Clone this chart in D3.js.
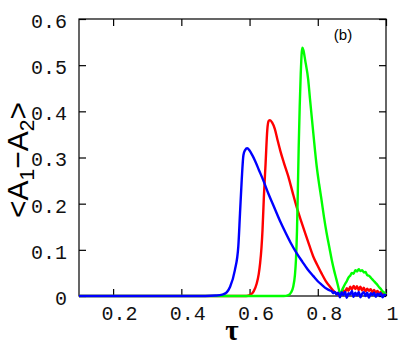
<!DOCTYPE html>
<html lang="en">
<head>
<meta charset="UTF-8">
<title>A1 - A2 vs tau</title>
<script src="https://d3js.org/d3.v7.min.js"></script>
<style>
  body { margin: 0; background: #fff; }
  .tick text { font-family: "Liberation Mono", monospace; font-size: 20px; fill: #111; }
</style>
</head>
<body>
<svg id="chart" width="415" height="348"></svg>
<script>
// tick values
const xTicks = [0.2, 0.4, 0.6, 0.8, 1];
const yTicks = [0, 0.1, 0.2, 0.3, 0.4, 0.5, 0.6];

// [tau, <A1-A2>]
const bluePts = [
  [0.10, 0], [0.47, 0], [0.50, 0.001], [0.52, 0.003], [0.533, 0.008], [0.543, 0.02],
  [0.557, 0.056], [0.567, 0.107], [0.572, 0.179], [0.577, 0.251], [0.582, 0.305],
  [0.587, 0.316], [0.593, 0.32], [0.6, 0.315], [0.608, 0.305], [0.616, 0.293],
  [0.628, 0.272], [0.64, 0.251], [0.655, 0.222], [0.67, 0.196], [0.689, 0.163],
  [0.705, 0.138], [0.72, 0.116], [0.738, 0.093], [0.755, 0.074], [0.77, 0.058],
  [0.787, 0.043], [0.80, 0.032], [0.812, 0.024], [0.825, 0.016],
  [0.835, 0.012], [0.84, 0.011], [0.845, 0.006], [0.85, 0.009], [0.855, 0.003],
  [0.86, 0.007], [0.865, -0.003], [0.87, 0.008], [0.875, 0.002], [0.88, 0.009],
  [0.885, -0.004], [0.89, 0.006], [0.895, 0.003], [0.9, 0.011], [0.905, -0.002],
  [0.91, 0.007], [0.915, 0.001], [0.92, 0.009], [0.925, -0.003], [0.93, 0.005],
  [0.935, 0.008], [0.94, 0.0], [0.945, 0.007], [0.95, -0.004], [0.955, 0.006],
  [0.96, 0.002], [0.965, 0.007], [0.97, -0.002], [0.975, 0.005], [0.98, 0.001],
  [0.985, 0.006], [0.99, -0.003], [0.995, 0.003], [1.0, 0.002]
];
const redPts = [
  [0.10, 0], [0.59, 0], [0.601, 0.002], [0.612, 0.01], [0.621, 0.027], [0.627, 0.048],
  [0.631, 0.071], [0.635, 0.105], [0.638, 0.143], [0.642, 0.215], [0.647, 0.287],
  [0.652, 0.36], [0.656, 0.379], [0.66, 0.381], [0.666, 0.376], [0.674, 0.362],
  [0.682, 0.338], [0.69, 0.315], [0.70, 0.29], [0.714, 0.258], [0.726, 0.225],
  [0.738, 0.193], [0.75, 0.165], [0.763, 0.136], [0.775, 0.11], [0.787, 0.085],
  [0.80, 0.065], [0.811, 0.049], [0.823, 0.033], [0.836, 0.02], [0.845, 0.012],
  [0.852, 0.007], [0.858, 0.004], [0.863, 0.001], [0.868, 0.008], [0.872, 0.004],
  [0.876, 0.012], [0.88, 0.008], [0.885, 0.017], [0.89, 0.011], [0.895, 0.02],
  [0.9, 0.014], [0.905, 0.022], [0.91, 0.015], [0.915, 0.021], [0.92, 0.013],
  [0.925, 0.02], [0.93, 0.012], [0.935, 0.018], [0.94, 0.01], [0.945, 0.016],
  [0.95, 0.011], [0.955, 0.015], [0.96, 0.008], [0.965, 0.013], [0.97, 0.007],
  [0.975, 0.011], [0.98, 0.005], [0.985, 0.009], [0.99, 0.004], [0.995, 0.006],
  [1.0, 0.003]
];
const greenPts = [
  [0.10, 0], [0.70, 0], [0.714, 0.002], [0.722, 0.008], [0.728, 0.02], [0.733, 0.045],
  [0.736, 0.078], [0.739, 0.14], [0.741, 0.208], [0.744, 0.32], [0.747, 0.41],
  [0.75, 0.48], [0.753, 0.528], [0.755, 0.538], [0.758, 0.532], [0.763, 0.511],
  [0.772, 0.468], [0.777, 0.428], [0.787, 0.352], [0.797, 0.28], [0.804, 0.242],
  [0.811, 0.208], [0.818, 0.172], [0.826, 0.136], [0.834, 0.105], [0.841, 0.078],
  [0.848, 0.055], [0.855, 0.035], [0.86, 0.02], [0.865, 0.006], [0.868, 0.004],
  [0.872, 0.014], [0.876, 0.02], [0.88, 0.026], [0.885, 0.032], [0.89, 0.04],
  [0.895, 0.044], [0.9, 0.05], [0.905, 0.048], [0.91, 0.056], [0.915, 0.053],
  [0.92, 0.058], [0.925, 0.054], [0.93, 0.056], [0.935, 0.051], [0.94, 0.052],
  [0.945, 0.045], [0.95, 0.044], [0.955, 0.04], [0.96, 0.036], [0.965, 0.032],
  [0.97, 0.028], [0.975, 0.024], [0.98, 0.019], [0.985, 0.015], [0.99, 0.01],
  [0.995, 0.007], [1.0, 0.004]
];

const series = [
  { name: "red", color: "#ff0000", pts: redPts },
  { name: "green", color: "#00ff00", pts: greenPts },
  { name: "blue", color: "#0000ff", pts: bluePts }
];

const svg = d3.select("#chart"),
      margin = {top: 19, right: 29, bottom: 52, left: 79},
      width = +svg.attr("width") - margin.left - margin.right,
      height = +svg.attr("height") - margin.top - margin.bottom,
      g = svg.append("g").attr("transform", `translate(${margin.left},${margin.top})`);

const x = d3.scaleLinear().domain([0.1, 1]).range([0, width]);
const y = d3.scaleLinear().domain([0, 0.6]).range([height, 0]);

// axes with inward ticks
const fmt = d => d === 0 ? "0" : d === 1 ? "1" : d3.format(".1f")(d);

const xAxis = g.append("g").attr("transform", `translate(0,${height})`)
  .call(d3.axisBottom(x).tickValues(xTicks).tickFormat(fmt).tickSize(-7).tickPadding(10));
xAxis.selectAll("text").attr("dx", "0.3em");

const yAxis = g.append("g")
  .call(d3.axisLeft(y).tickValues(yTicks).tickFormat(fmt).tickSize(-7).tickPadding(12));
yAxis.selectAll("text").attr("dy", "0.42em");

g.append("g").call(d3.axisTop(x).tickValues(xTicks).tickFormat("").tickSize(-7));
g.append("g").attr("transform", `translate(${width},0)`)
  .call(d3.axisRight(y).tickValues(yTicks).tickFormat("").tickSize(-7));

g.selectAll(".domain").remove();
g.selectAll(".tick line").attr("stroke", "#000").attr("stroke-width", 1.2);

g.append("rect")
  .attr("width", width).attr("height", height)
  .attr("fill", "none").attr("stroke", "#000").attr("stroke-width", 1.2);

// curves
const line = d3.line()
  .x(d => x(d[0]))
  .y(d => y(d[1]))
  .curve(d3.curveMonotoneX);

g.selectAll("path.curve")
  .data(series)
  .join("path")
  .attr("class", "curve")
  .attr("fill", "none")
  .attr("stroke", d => d.color)
  .attr("stroke-width", 2.4)
  .attr("stroke-linejoin", "round")
  .attr("d", d => line(d.pts));

// labels
g.append("text")
  .attr("x", x(0.874)).attr("y", 21)
  .attr("text-anchor", "middle")
  .style("font-family", "Liberation Sans, Arial, sans-serif")
  .style("font-size", "15px")
  .text("(b)");

svg.append("text")
  .attr("x", 232).attr("y", 340)
  .attr("text-anchor", "middle")
  .style("font-family", "Liberation Serif, serif")
  .style("font-size", "29px")
  .style("font-weight", "bold")
  .text("τ");

const yl = svg.append("text")
  .attr("transform", "translate(28,160) rotate(-90)")
  .attr("text-anchor", "middle")
  .style("font-family", "Liberation Sans, Arial, sans-serif")
  .style("font-size", "30px");
yl.append("tspan").text("<A");
yl.append("tspan").attr("baseline-shift", "-30%").style("font-size", "21px").text("1");
yl.append("tspan").text("−A");
yl.append("tspan").attr("baseline-shift", "-30%").style("font-size", "21px").text("2");
yl.append("tspan").text(">");
</script>
</body>
</html>
